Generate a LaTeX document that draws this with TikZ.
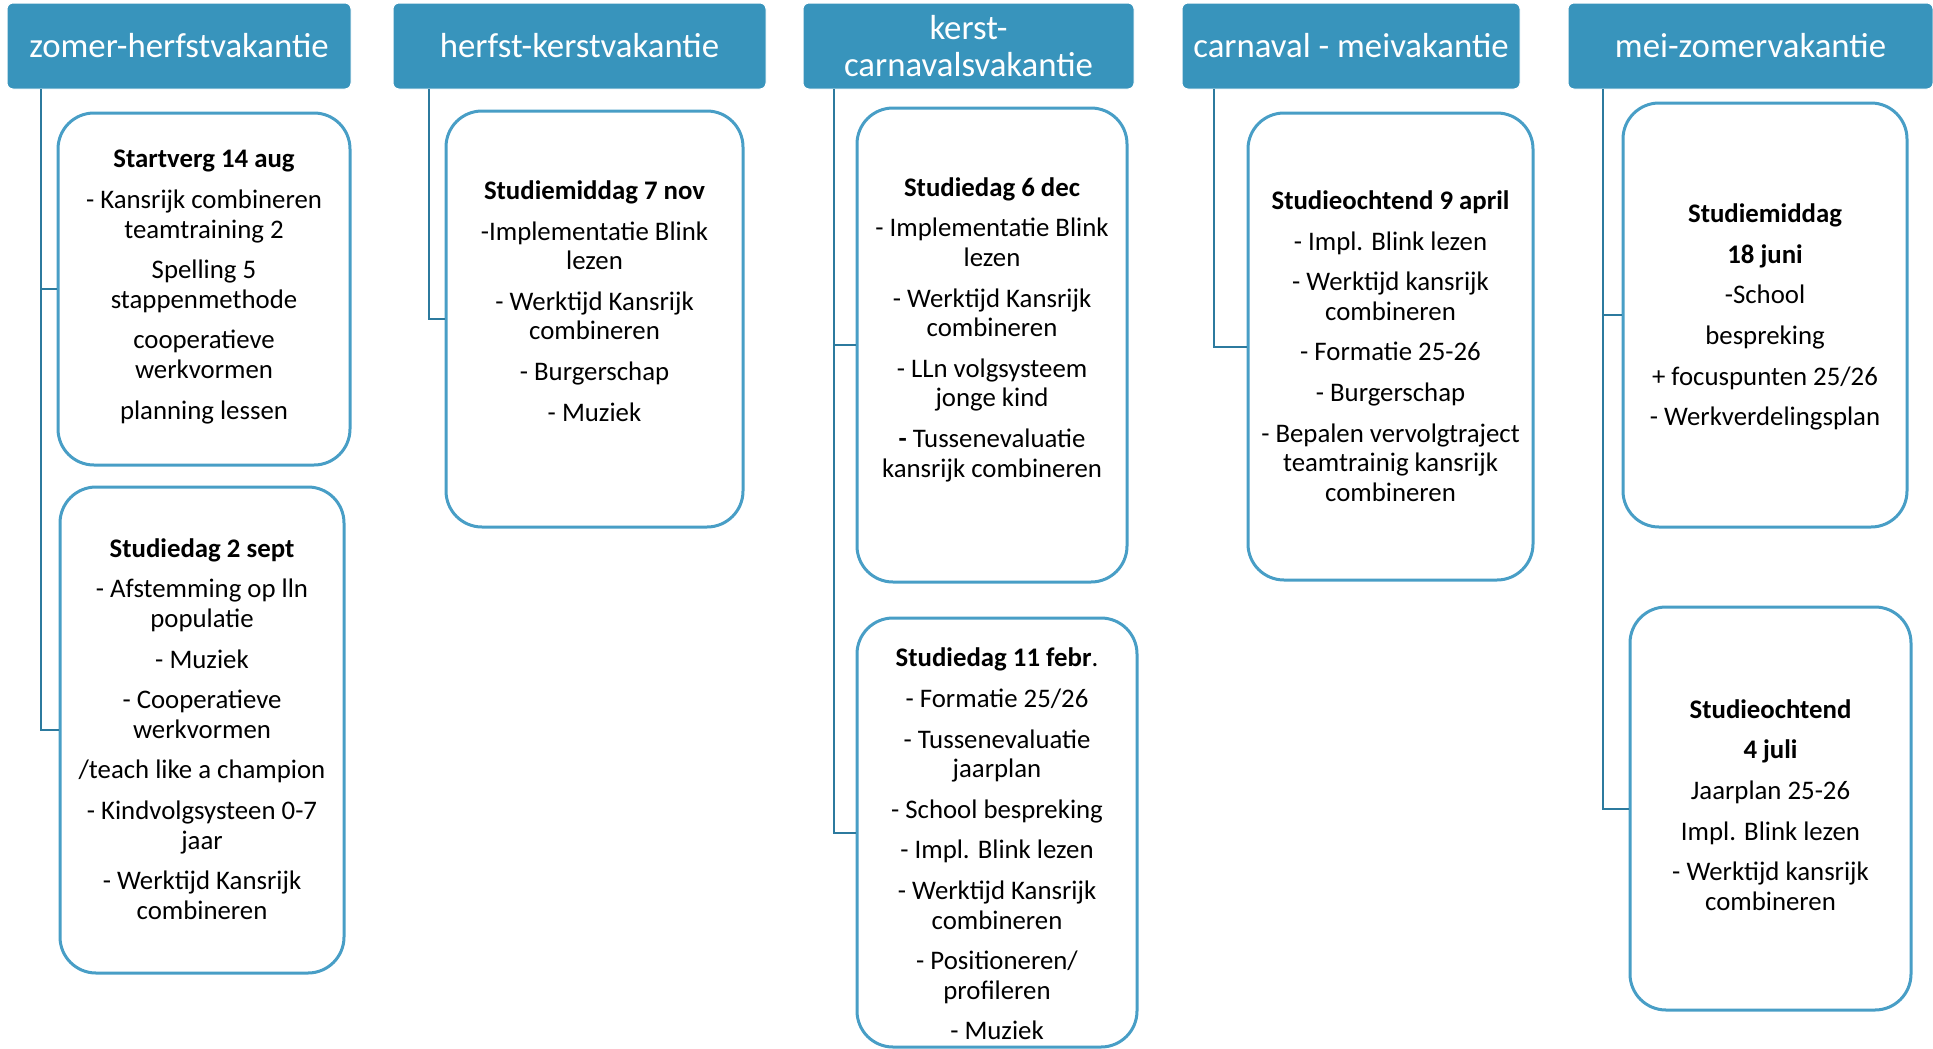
\documentclass[tikz,border=0pt]{standalone}
\usepackage{fontspec}
\setmainfont{Carlito}
\definecolor{kopblauw}{RGB}{56,148,188}
\definecolor{randblauw}{RGB}{72,158,198}
\definecolor{lijnblauw}{RGB}{44,122,158}

\begin{document}
\begin{tikzpicture}[x=.5pt,y=-.5pt,
	vakantie/.style={fill=kopblauw,draw=white,line width=.5pt,rounded corners=3pt,text=white,align=center,inner sep=0pt,font=\fontsize{17.4}{18.5}\selectfont},
	studie/.style={draw=randblauw,line width=1.5pt,rounded corners=18pt,fill=white,inner sep=0pt},
	inhoud/.style={align=center,inner sep=0pt,font=\fontsize{13.4}{14.8}\selectfont},
	lijn/.style={draw=lijnblauw,line width=1pt}]
	\useasboundingbox (0,0) rectangle (1933,1049);
	
	\node[vakantie,minimum width=172pt,minimum height=43pt] (h1) at (179,46) {zomer-herfstvakantie};
	\node[vakantie,minimum width=186.5pt,minimum height=43pt] (h2) at (579.5,46) {herfst-kerstvakantie};
	\node[vakantie,minimum width=165.5pt,minimum height=43pt] (h3) at (968.5,46) {kerst-\\carnavalsvakantie};
	\node[vakantie,minimum width=169pt,minimum height=43pt] (h4) at (1351,46) {carnaval - meivakantie};
	\node[vakantie,minimum width=182.5pt,minimum height=43pt] (h5) at (1750.5,46) {mei-zomervakantie};
	
	\coordinate (v1) at (41,89); \coordinate (v2) at (429,89); \coordinate (v3) at (834,89);
	\coordinate (v4) at (1214,89); \coordinate (v5) at (1603,89);
	
	\node[studie,minimum width=146pt,minimum height=176pt] (b11) at (204,289) {};
	\node[studie,minimum width=142pt,minimum height=243pt] (b12) at (202,730) {};
	\node[studie,minimum width=148.5pt,minimum height=208pt] (b21) at (594.5,319) {};
	\node[studie,minimum width=135pt,minimum height=237pt] (b31) at (992,345) {};
	\node[studie,minimum width=140pt,minimum height=214.5pt] (b32) at (997,832.5) {};
	\node[studie,minimum width=142.5pt,minimum height=233.5pt] (b41) at (1390.5,346.5) {};
	\node[studie,minimum width=142pt,minimum height=212pt] (b51) at (1765,315) {};
	\node[studie,minimum width=140.5pt,minimum height=201.5pt] (b52) at (1770.5,808.5) {};
	
	\draw[lijn] (v1) |- (b11.west); \draw[lijn] (v1) |- (b12.west);
	\draw[lijn] (v2) |- (b21.west);
	\draw[lijn] (v3) |- (b31.west); \draw[lijn] (v3) |- (b32.west);
	\draw[lijn] (v4) |- (b41.west);
	\draw[lijn] (v5) |- (b51.west); \draw[lijn] (v5) |- (b52.west);
	
	\node[inhoud] (t11) at (204,287) {\textbf{Startverg 14 aug}\\[5.5pt]- Kansrijk combineren\\teamtraining 2\\[5.5pt]Spelling 5\\stappenmethode\\[5.5pt]cooperatieve\\werkvormen\\[5.5pt]planning lessen};
	\node[inhoud] (t12) at (202,729) {\textbf{Studiedag 2 sept}\\[5.5pt]- Afstemming op lln\\populatie\\[5.5pt]- Muziek\\[5.5pt]- Cooperatieve\\werkvormen\\[5.5pt]/teach like a champion\\[5.5pt]- Kindvolgsysteen 0-7\\jaar\\[5.5pt]- Werktijd Kansrijk\\combineren};
	\node[inhoud] (t21) at (594.5,301) {\textbf{Studiemiddag 7 nov}\\[5.5pt]-Implementatie Blink\\lezen\\[5.5pt]- Werktijd Kansrijk\\combineren\\[5.5pt]- Burgerschap\\[5.5pt]- Muziek};
	\node[inhoud] (t31) at (992,329.5) {\textbf{Studiedag 6 dec}\\[5.5pt]- Implementatie Blink\\lezen\\[5.5pt]- Werktijd Kansrijk\\combineren\\[5.5pt]- LLn volgsysteem\\jonge kind\\[5.5pt]\textbf{-} Tussenevaluatie\\kansrijk combineren};
	\node[inhoud] (t32) at (997,844) {\textbf{Studiedag 11 febr}.\\[5.5pt]- Formatie 25/26\\[5.5pt]- Tussenevaluatie\\jaarplan\\[5.5pt]- School bespreking\\[5.5pt]- Impl. Blink lezen\\[5.5pt]- Werktijd Kansrijk\\combineren\\[5.5pt]- Positioneren/\\profileren\\[5.5pt]- Muziek};
	\node[inhoud] (t41) at (1390.5,346) {\textbf{Studieochtend 9 april}\\[5.5pt]- Impl. Blink lezen\\[5.5pt]- Werktijd kansrijk\\combineren\\[5.5pt]- Formatie 25-26\\[5.5pt]- Burgerschap\\[5.5pt]- Bepalen vervolgtraject\\teamtrainig kansrijk\\combineren};
	\node[inhoud] (t51) at (1765,317) {\textbf{Studiemiddag}\\[5.5pt]\textbf{18 juni}\\[5.5pt]-School\\[5.5pt]bespreking\\[5.5pt]+ focuspunten 25/26\\[5.5pt]- Werkverdelingsplan};
	\node[inhoud] (t52) at (1770.5,805) {\textbf{Studieochtend}\\[5.5pt]\textbf{4 juli}\\[5.5pt]Jaarplan 25-26\\[5.5pt]Impl. Blink lezen\\[5.5pt]- Werktijd kansrijk\\combineren};
\end{tikzpicture}
\end{document}
